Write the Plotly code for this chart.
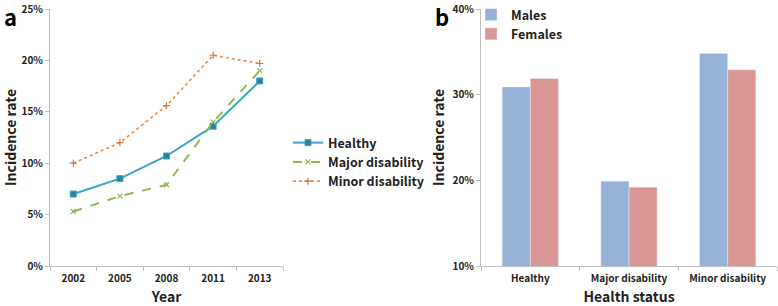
import plotly.graph_objects as go

years = ["2002", "2005", "2008", "2011", "2013"]
healthy = [0.070, 0.085, 0.107, 0.136, 0.180]
major = [0.053, 0.068, 0.079, 0.140, 0.190]
minor = [0.100, 0.120, 0.156, 0.205, 0.197]

status = ["Healthy", "Major disability", "Minor disability"]
males = [0.309, 0.199, 0.348]
females = [0.319, 0.192, 0.329]

FONT = "Noto Sans CJK KR"
W, H = 778, 306

def px(x):
    return x / W

def py(y):
    return 1 - y / H

fig = go.Figure()
fig.add_trace(go.Scatter(x=years, y=healthy, name="Healthy", mode="lines+markers",
                         line=dict(color="#3aa5c4", width=2),
                         marker=dict(symbol="square", size=6, color="#31809a",
                                     line=dict(color="#3aa5c4", width=1)),
                         xaxis="x", yaxis="y", legend="legend"))
fig.add_trace(go.Scatter(x=years, y=major, name="Major disability", mode="lines+markers",
                         line=dict(color="#8fb84f", width=2, dash="dash"),
                         marker=dict(symbol="x-thin", size=5, line=dict(color="#8fb84f", width=1.2)),
                         xaxis="x", yaxis="y", legend="legend"))
fig.add_trace(go.Scatter(x=years, y=minor, name="Minor disability", mode="lines+markers",
                         line=dict(color="#ee8a40", width=1.6, dash="dot"),
                         marker=dict(symbol="cross-thin", size=5, line=dict(color="#c97a45", width=1.2)),
                         xaxis="x", yaxis="y", legend="legend"))

fig.add_trace(go.Bar(x=status, y=males, name="Males", marker=dict(color="#95b3d7"),
                     xaxis="x2", yaxis="y2", legend="legend2"))
fig.add_trace(go.Bar(x=status, y=females, name="Females", marker=dict(color="#d99694"),
                     xaxis="x2", yaxis="y2", legend="legend2"))

axis_common = dict(showline=True, linecolor="#bfbfbf", linewidth=1, showgrid=False,
                   zeroline=False, ticks="outside", ticklen=4, tickcolor="#bfbfbf",
                   automargin=False,
                   tickfont=dict(family=FONT, size=10, color="#222", weight="bold"))

title_font = dict(family=FONT, size=14, weight="bold", color="#222")

fig.update_layout(
    width=W, height=H, margin=dict(l=0, r=0, t=0, b=0, autoexpand=False),
    plot_bgcolor="white", paper_bgcolor="white",
    font=dict(family=FONT, color="#222"),
    barmode="group", bargap=0.43, bargroupgap=0,
    xaxis=dict(domain=[px(50), px(283)], anchor="y", type="category",
               tickson="boundaries", range=[-0.5, 4.5], ticklabelstandoff=3,
               title=dict(text="Year", font=title_font, standoff=14),
               **axis_common),
    yaxis=dict(domain=[py(266), py(9)], anchor="x", range=[0, 0.25],
               tickvals=[0, 0.05, 0.10, 0.15, 0.20, 0.25], tickformat=".0%",
               title=dict(text="Incidence rate", font=title_font, standoff=4),
               **axis_common),
    xaxis2=dict(domain=[px(481), px(777)], anchor="y2", type="category",
                tickson="boundaries", range=[-0.5, 2.5], ticklabelstandoff=3,
                title=dict(text="Health status", font=title_font, standoff=14),
                **axis_common),
    yaxis2=dict(domain=[py(266), py(9)], anchor="x2", range=[0.10, 0.40],
                tickvals=[0.10, 0.20, 0.30, 0.40], tickformat=".0%",
                title=dict(text="Incidence rate", font=title_font, standoff=4),
                **axis_common),
    legend=dict(x=px(288), y=py(128), xanchor="left", yanchor="top",
                font=dict(family=FONT, size=12.5, weight="bold"), bgcolor="rgba(0,0,0,0)",
                tracegroupgap=0, itemwidth=30),
    legend2=dict(x=px(471), y=py(0), xanchor="left", yanchor="top",
                 font=dict(family=FONT, size=12.5, weight="bold"), bgcolor="rgba(0,0,0,0)",
                 itemwidth=30),
    annotations=[
        dict(text="a", x=px(2), y=py(-2), xref="paper", yref="paper", xanchor="left", yanchor="top",
             showarrow=False, font=dict(family=FONT, size=22, weight="bold", color="#000")),
        dict(text="b", x=px(433), y=py(-2), xref="paper", yref="paper", xanchor="left", yanchor="top",
             showarrow=False, font=dict(family=FONT, size=22, weight="bold", color="#000")),
    ],
)

fig.write_html("out.html", config={"displayModeBar": False},
               post_script="document.body.style.margin='0';")
